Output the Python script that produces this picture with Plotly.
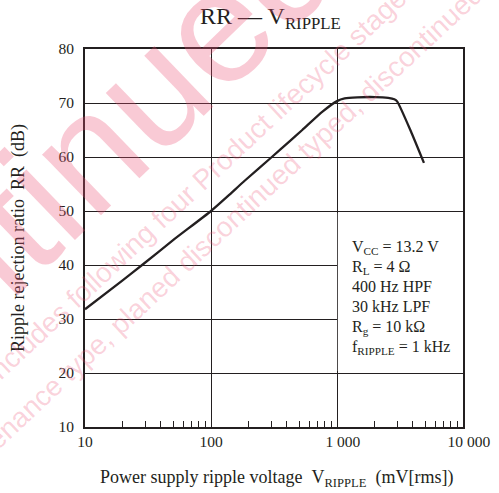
import plotly.graph_objects as go

# ---- data ----
ripple_mv = [10, 20, 28.4, 50, 100, 136, 185, 304, 420, 530, 767, 1000, 1150, 1450, 2000, 2550, 2850, 3000, 3900, 4900]
rr_db = [31.8, 37.2, 40.0, 44.6, 50.0, 52.75, 55.6, 60.0, 62.9, 65.0, 68.4, 70.35, 70.85, 71.05, 71.1, 70.95, 70.7, 70.3, 64.5, 58.9]

x_tick_vals = [10, 100, 1000, 10000]
x_tick_text = ["10", "100", "\u00a0\u00a0\u00a01 000", "\u00a0\u00a0\u00a010 000"]
x_minor_vals = [m * d for d in (10, 100, 1000) for m in range(2, 10)]
y_tick_vals = [10, 20, 30, 40, 50, 60, 70, 80]

cond_lines = ["V<sub>CC</sub> = 13.2 V", "R<sub>L</sub> = 4 Ω", "400 Hz HPF",
              "30 kHz LPF", "R<sub>g</sub> = 10 kΩ", "f<sub>RIPPLE</sub> = 1 kHz"]

W, H = 499, 493
L, R, T, B = 85, 36, 49, 66
PW, PH = W - L - R, H - T - B
NB = "\u00a0"


def px(xp):
    return (xp - L) / PW


def py(yp):
    return (H - B - yp) / PH


SERIF = "Liberation Serif, Times New Roman, serif"
SANS = "Liberation Sans, Arial, sans-serif"
INK = "#231f20"

fig = go.Figure()
fig.add_trace(go.Scatter(
    x=ripple_mv, y=rr_db, mode="lines",
    line=dict(color=INK, width=2.3, shape="spline", smoothing=0.6),
    showlegend=False, hoverinfo="skip"))

# white condition box (covers grid to the right of 1 000)
fig.add_shape(type="rect", xref="x", yref="y", x0=1015, x1=10000, y0=20.35, y1=49.65,
              fillcolor="white", line=dict(width=0), layer="between")

for i, line in enumerate(cond_lines):
    fig.add_annotation(xref="paper", yref="paper", x=px(350), y=py(236 + 20 * i), xanchor="left",
                       yanchor="top", align="left", showarrow=False, text=line,
                       font=dict(family=SERIF, size=16, color=INK))

# title and axis titles
fig.add_annotation(xref="paper", yref="paper", x=px(270), y=py(18), xanchor="center", yanchor="middle",
                   showarrow=False, text="RR — V<sub>RIPPLE</sub>",
                   font=dict(family=SERIF, size=24, color=INK))
fig.add_annotation(xref="paper", yref="paper", x=px(276), y=py(478), xanchor="center", yanchor="middle",
                   showarrow=False,
                   text=f"Power supply ripple voltage{NB}{NB}V<sub>RIPPLE</sub>{NB}{NB}(mV[rms])",
                   font=dict(family=SERIF, size=18, color=INK))
fig.add_annotation(xref="paper", yref="paper", x=px(18), y=py(238), xanchor="center", yanchor="middle",
                   showarrow=False, textangle=-90,
                   text=f"Ripple rejection ratio{NB}{NB}RR{NB}{NB}(dB)",
                   font=dict(family=SERIF, size=18, color=INK))

# watermark
WM = "rgba(236,80,115,0.30)"
WM2 = "rgba(236,80,115,0.26)"
fig.add_annotation(xref="paper", yref="paper", x=px(-23), y=py(257), xanchor="center", yanchor="middle",
                   showarrow=False, textangle=-44, text="Discontinued",
                   font=dict(family=SANS, size=160, color=WM))
fig.add_annotation(xref="paper", yref="paper", x=px(195), y=py(186), xanchor="center", yanchor="middle",
                   showarrow=False, textangle=-43, text="includes following four Product lifecycle stage",
                   font=dict(family=SANS, size=28, color=WM2))
fig.add_annotation(xref="paper", yref="paper", x=px(209), y=py(240), xanchor="center", yanchor="middle",
                   showarrow=False, textangle=-43, text="maintenance type, planed discontinued typed, discontinued",
                   font=dict(family=SANS, size=28, color=WM2))

fig.update_xaxes(type="log", range=[1, 4], tickvals=x_tick_vals, ticktext=x_tick_text, ticks="",
                 showgrid=True, gridcolor=INK, gridwidth=1,
                 showline=True, linecolor=INK, linewidth=1.6, mirror=True, zeroline=False,
                 tickfont=dict(family=SERIF, size=15.5, color=INK),
                 minor=dict(tickvals=x_minor_vals, ticks="inside", ticklen=6, tickwidth=1,
                            tickcolor=INK, showgrid=False))
fig.update_yaxes(range=[10, 80], tickvals=y_tick_vals, ticks="", ticklabelstandoff=6,
                 showgrid=True, gridcolor=INK, gridwidth=1,
                 showline=True, linecolor=INK, linewidth=1.6, mirror=True, zeroline=False,
                 tickfont=dict(family=SERIF, size=15.5, color=INK))

fig.update_layout(width=W, height=H, margin=dict(l=L, r=R, t=T, b=B, autoexpand=False),
                  paper_bgcolor="white", plot_bgcolor="white", showlegend=False)

fig.write_html("out.html", config={"displayModeBar": False},
               post_script="document.body.style.margin='0';document.body.style.overflow='hidden';")
